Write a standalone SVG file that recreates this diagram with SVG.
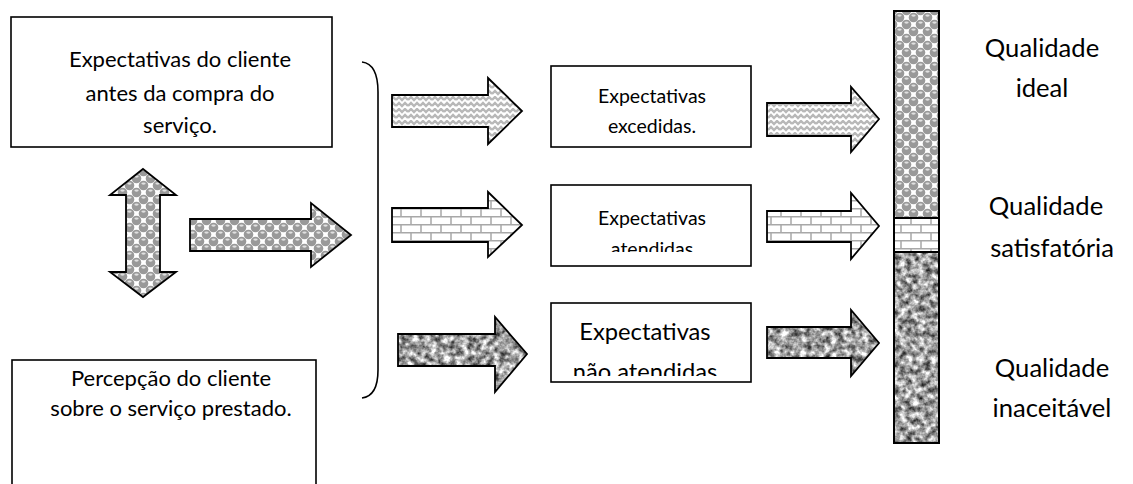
<svg xmlns="http://www.w3.org/2000/svg" width="1133" height="484" viewBox="0 0 1133 484">
<style>
  .box{fill:#fff;stroke:#000;stroke-width:1.6}
  .arr{stroke:#000;stroke-width:1.8;stroke-linejoin:miter}
  .t{font-family:Lato,"Open Sans",sans-serif;fill:#000;text-anchor:middle}
  .brace{fill:none;stroke:#000;stroke-width:1.6}
</style>
<defs>
  <pattern id="bubbles" width="14" height="14" patternUnits="userSpaceOnUse">
    <rect width="14" height="14" fill="#fff"/>
    <circle cx="3.5" cy="3.5" r="4.8" fill="#999"/>
    <circle cx="10.5" cy="10.5" r="4.8" fill="#999"/>
    <circle cx="17.5" cy="3.5" r="4.8" fill="#999"/>
    <circle cx="3.5" cy="17.5" r="4.8" fill="#999"/>
    <circle cx="-3.5" cy="10.5" r="4.8" fill="#999"/>
    <circle cx="10.5" cy="-3.5" r="4.8" fill="#999"/>
    <ellipse cx="3.5" cy="1.6" rx="2.2" ry="1.1" fill="#e0e0e0"/>
    <ellipse cx="10.5" cy="8.6" rx="2.2" ry="1.1" fill="#e0e0e0"/>
  </pattern>
  <pattern id="zig" width="12" height="12" patternUnits="userSpaceOnUse">
    <rect width="12" height="12" fill="#fff"/>
    <path d="M0,4 L3,1 L6,4 L9,1 L12,4 M0,10 L3,7 L6,10 L9,7 L12,10" stroke="#b8b8b8" stroke-width="2.4" fill="none"/>
  </pattern>
  <pattern id="brick" width="20" height="16" patternUnits="userSpaceOnUse">
    <rect width="20" height="16" fill="#fff"/>
    <path d="M0,0.75 H20 M0,8.75 H20 M1,0 V8.5 M11,8.5 V16" stroke="#a8a8a8" stroke-width="1.5" fill="none"/>
  </pattern>
  <filter id="noise" x="0" y="0" width="100%" height="100%" color-interpolation-filters="sRGB">
    <feTurbulence type="fractalNoise" baseFrequency="0.16" numOctaves="3" seed="7"/>
    <feColorMatrix type="matrix" values="1 0 0 0 0  1 0 0 0 0  1 0 0 0 0  0 0 0 0 1"/>
    <feComponentTransfer>
      <feFuncR type="linear" slope="1.5" intercept="-0.12"/>
      <feFuncG type="linear" slope="1.5" intercept="-0.12"/>
      <feFuncB type="linear" slope="1.5" intercept="-0.12"/>
    </feComponentTransfer>
  </filter>
  <pattern id="granite" width="1133" height="484" patternUnits="userSpaceOnUse">
    <rect width="1133" height="484" fill="#999" filter="url(#noise)"/>
  </pattern>
  <clipPath id="clip2"><rect x="551" y="185" width="200" height="67"/></clipPath>
  <clipPath id="clip3"><rect x="551" y="303" width="200" height="73"/></clipPath>
</defs>

<g id="node-expectativas-cliente">
  <rect class="box" x="11" y="17" width="321" height="130"/>
  <text class="t" x="180" y="67" font-size="22">Expectativas do cliente</text>
  <text class="t" x="180" y="101" font-size="22">antes da compra do</text>
  <text class="t" x="180" y="133" font-size="22">serviço.</text>
</g>

<g id="node-percepcao-cliente">
  <rect class="box" x="12" y="360" width="304" height="140"/>
  <text class="t" x="171" y="386" font-size="22">Percepção do cliente</text>
  <text class="t" x="171" y="416" font-size="22">sobre o serviço prestado.</text>
</g>

<g id="node-excedidas">
  <rect class="box" x="551" y="66" width="200" height="81"/>
  <text class="t" x="652" y="103" font-size="19.5">Expectativas</text>
  <text class="t" x="652" y="133" font-size="19.5">excedidas.</text>
</g>

<g id="node-atendidas">
  <rect class="box" x="551" y="185" width="200" height="81"/>
  <text class="t" x="652" y="225" font-size="19.5">Expectativas</text>
  <text class="t" x="652" y="256" font-size="19.5" clip-path="url(#clip2)">atendidas</text>
</g>

<g id="node-nao-atendidas">
  <rect class="box" x="551" y="303" width="200" height="79"/>
  <text class="t" x="645" y="340" font-size="23.7">Expectativas</text>
  <text class="t" x="645" y="380" font-size="23.7" clip-path="url(#clip3)">não atendidas</text>
</g>

<g id="node-escala-qualidade">
  <rect x="894" y="11" width="45" height="207" fill="url(#bubbles)"/>
  <rect x="894" y="218" width="45" height="34" fill="url(#brick)"/>
  <rect x="894" y="252" width="45" height="191" fill="url(#granite)"/>
  <path d="M894,218 H939 M894,252 H939" stroke="#000" stroke-width="2"/>
  <rect x="894" y="11" width="45" height="432" fill="none" stroke="#000" stroke-width="2"/>
</g>

<g id="node-qualidade-ideal">
  <text class="t" x="1042" y="57" font-size="25.6">Qualidade</text>
  <text class="t" x="1042" y="97" font-size="25.6">ideal</text>
</g>
<g id="node-qualidade-satisfatoria">
  <text class="t" x="1046" y="215" font-size="25.6">Qualidade</text>
  <text class="t" x="1052" y="257" font-size="25.6">satisfatória</text>
</g>
<g id="node-qualidade-inaceitavel">
  <text class="t" x="1052" y="377" font-size="25.6">Qualidade</text>
  <text class="t" x="1052" y="417" font-size="25.6">inaceitável</text>
</g>

<g id="connectors">
  <polygon class="arr" fill="url(#bubbles)" points="143,169 176,195 160,195 160,272 176,272 143,297 110,272 126,272 126,195 110,195"/>
  <polygon class="arr" fill="url(#bubbles)" points="190,219 311,219 311,203 351,235 311,267 311,251 190,251"/>
  <path class="brace" d="M362,62 Q378,64 378,92 L378,370 Q378,396 362,398"/>
  <polygon class="arr" fill="url(#zig)" points="392,95 488,95 488,78 522,111 488,144 488,127 392,127"/>
  <polygon class="arr" fill="url(#brick)" points="392,208 488,208 488,192 522,225 488,257 488,242 392,242"/>
  <polygon class="arr" fill="url(#granite)" points="398,334 495,334 495,317 527,354 495,392 495,366 398,366"/>
  <polygon class="arr" fill="url(#zig)" points="767,103 851,103 851,87 879,119 851,152 851,136 767,136"/>
  <polygon class="arr" fill="url(#brick)" points="767,211 851,211 851,193 879,226 851,259 851,242 767,242"/>
  <polygon class="arr" fill="url(#granite)" points="767,327 851,327 851,310 879,343 851,376 851,358 767,358"/>
</g>
</svg>
